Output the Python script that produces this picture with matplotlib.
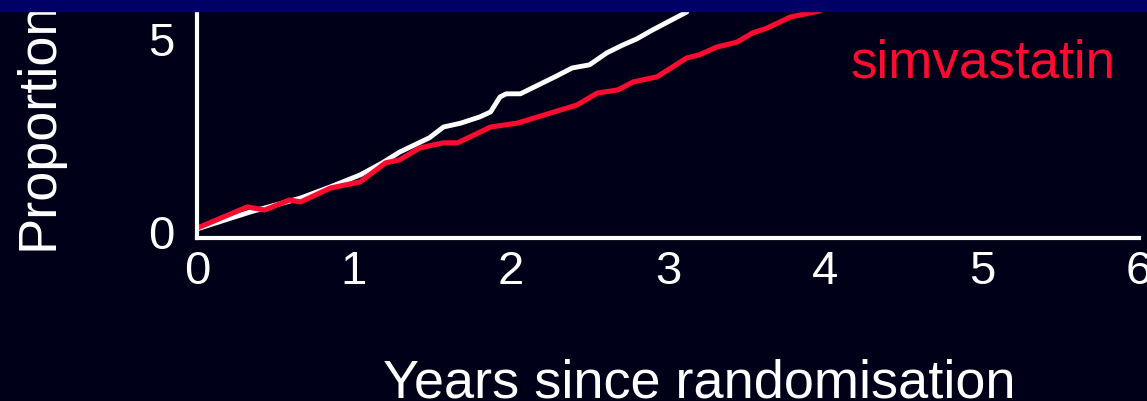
import matplotlib
matplotlib.use("Agg")
import matplotlib.pyplot as plt
import matplotlib.patches as patches

plt.rcParams['font.family'] = ['Liberation Sans', 'DejaVu Sans']

# placebo (white) curve
placebo_x = [0, 0.34, 0.66, 0.85, 1.04, 1.18, 1.29, 1.48, 1.57, 1.68, 1.80, 1.87,
             1.93, 1.97, 2.06, 2.20, 2.29, 2.39, 2.50, 2.61, 2.71, 2.80, 2.90, 3.12]
placebo_y = [0.08, 0.52, 0.88, 1.17, 1.48, 1.79, 2.07, 2.44, 2.72, 2.82, 2.98, 3.11,
             3.50, 3.58, 3.58, 3.86, 4.04, 4.25, 4.33, 4.64, 4.84, 5.00, 5.23, 5.70]

# simvastatin (red) curve
simva_x = [0, 0.32, 0.43, 0.59, 0.66, 0.85, 1.04, 1.20, 1.29, 1.42, 1.57, 1.66, 1.87,
           2.04, 2.25, 2.42, 2.55, 2.68, 2.78, 2.93, 3.12, 3.20, 3.31, 3.44, 3.54,
           3.63, 3.78, 3.97]
simva_y = [0.10, 0.65, 0.57, 0.83, 0.78, 1.14, 1.30, 1.79, 1.87, 2.18, 2.31, 2.31, 2.72,
           2.82, 3.08, 3.29, 3.60, 3.68, 3.89, 4.02, 4.51, 4.59, 4.79, 4.92, 5.16,
           5.28, 5.57, 5.73]

x_ticks = [0, 1, 2, 3, 4, 5, 6]
y_ticks = [0, 5]

bg = '#000018'
red = '#ff0a30'

fig = plt.figure(figsize=(11.47, 4.01), dpi=100, facecolor=bg)
ax = fig.add_axes([197/1147, (401-238)/401, (1139-197)/1147, (238-11)/401])
ax.set_facecolor(bg)

ax.plot(placebo_x, placebo_y, color='white', lw=3.5, solid_capstyle='round',
        solid_joinstyle='round')
ax.plot(simva_x, simva_y, color=red, lw=3.7, solid_capstyle='round',
        solid_joinstyle='round')

ax.set_xlim(0, 6)
ax.set_ylim(-0.155, 5.725)
ax.set_xticks(x_ticks)
ax.set_yticks(y_ticks)
ax.tick_params(length=0, labelsize=34, colors='white')
ax.tick_params(axis='y', pad=16)
ax.tick_params(axis='x', pad=9)

for s in ['top', 'right']:
    ax.spines[s].set_visible(False)
for s in ['left', 'bottom']:
    ax.spines[s].set_color('white')
    ax.spines[s].set_linewidth(3)

ax.text(850/1147, (401-78)/401, 'simvastatin', transform=fig.transFigure,
        color=red, fontsize=38.2, ha='left', va='baseline')

fig.text(699/1147, (401-398)/401, 'Years since randomisation', color='white',
         fontsize=39, ha='center', va='baseline')
fig.text(52/1147, (401-250)/401, 'Proportion', color='white', fontsize=39,
         rotation=90, ha='left', va='baseline', rotation_mode='anchor')

# blue band along the top
fig.patches.append(patches.Rectangle((0, (401-11)/401), 1, 11/401,
                                     transform=fig.transFigure, color='#000066',
                                     zorder=10))

fig.savefig('out.png', dpi=100, facecolor=bg)
